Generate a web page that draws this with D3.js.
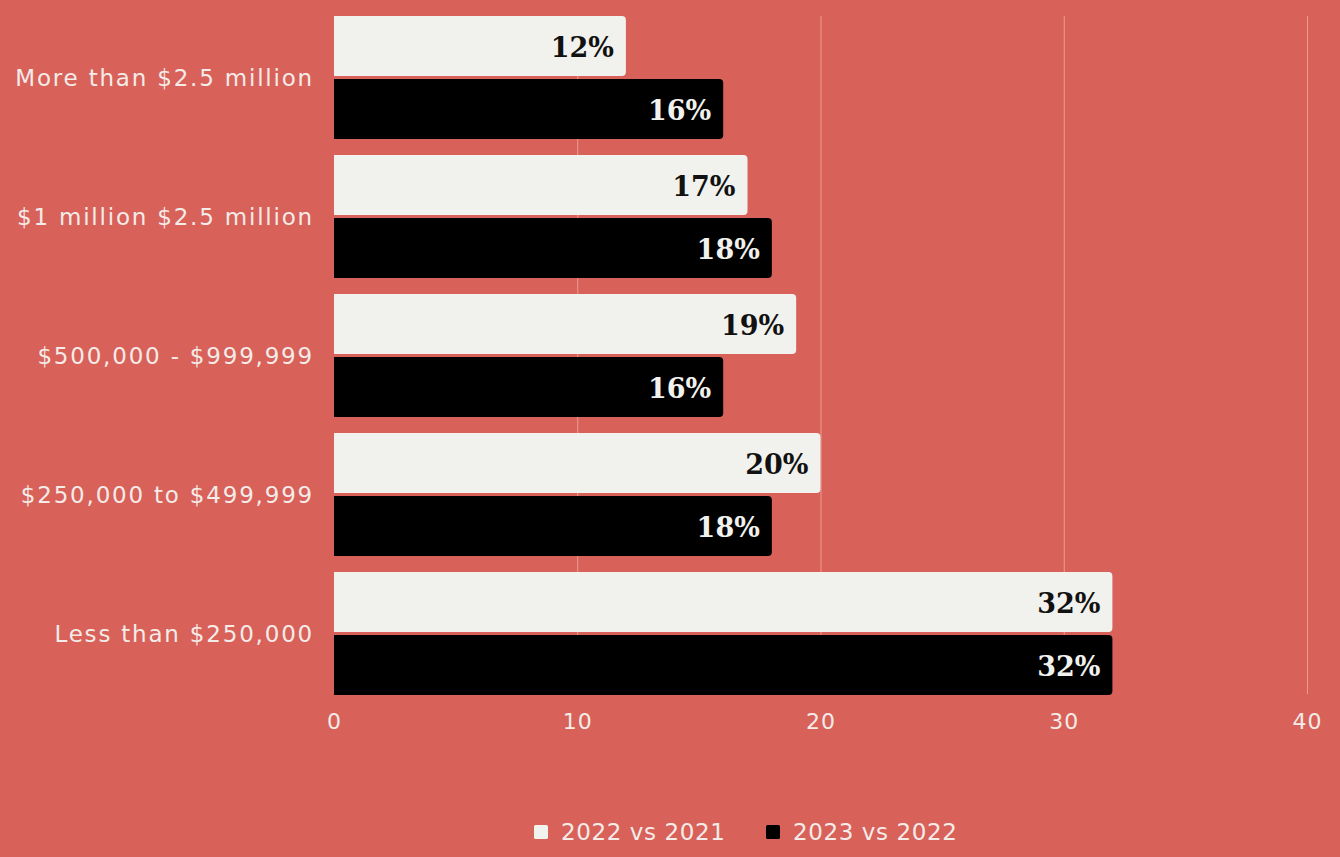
<!DOCTYPE html>
<html>
<head>
<meta charset="utf-8">
<script src="https://cdn.jsdelivr.net/npm/d3@7"></script>
<style>
  html, body { margin: 0; padding: 0; background: #d8615a; }
  svg { display: block; }
</style>
</head>
<body>
<svg id="chart" width="1340" height="857"></svg>
<script>
// Price brackets (top to bottom) and the two comparison series (%)
const categories = [
  "More than $2.5 million",
  "$1 million $2.5 million",
  "$500,000 - $999,999",
  "$250,000 to $499,999",
  "Less than $250,000"
];
const seriesNames = ["2022 vs 2021", "2023 vs 2022"];
const values2022vs2021 = [12, 17, 19, 20, 32];
const values2023vs2022 = [16, 18, 16, 18, 32];
const xTicks = [0, 10, 20, 30, 40];

const colors = { "2022 vs 2021": "#f1f1ed", "2023 vs 2022": "#000000" };
const labelColors = { "2022 vs 2021": "#111111", "2023 vs 2022": "#f1f1ed" };
const textColor = "#f4ece8";
const sansFont = "'DejaVu Sans', sans-serif";
const serifFont = "'DejaVu Serif', 'Liberation Serif', serif";

const rows = categories.map((c, i) => ({
  category: c,
  values: [
    { key: seriesNames[0], value: values2022vs2021[i] },
    { key: seriesNames[1], value: values2023vs2022[i] }
  ]
}));

const svg = d3.select("#chart");
const plotLeft = 334, plotRight = 1307, plotTop = 16, plotBottom = 695;

const x = d3.scaleLinear().domain([0, 40]).range([plotLeft, plotRight]);
const y0 = d3.scaleBand().domain(categories).range([plotTop, plotBottom])
  .paddingInner(0.115).paddingOuter(0);
const y1 = d3.scaleBand().domain(seriesNames).range([0, y0.bandwidth()])
  .paddingInner(0.048).paddingOuter(0);

// Vertical gridlines
svg.append("g")
  .selectAll("line")
  .data(xTicks.filter(t => t > 0))
  .join("line")
  .attr("x1", d => x(d) + 0.5).attr("x2", d => x(d) + 0.5)
  .attr("y1", plotTop).attr("y2", plotBottom - 1)
  .attr("stroke", "#ee9a92")
  .attr("stroke-width", 1);

// Bars, square on the left and rounded on the right end
function barPath(x0, x1, yTop, h, r) {
  r = Math.min(r, (x1 - x0) / 2, h / 2);
  return `M${x0},${yTop}H${x1 - r}A${r},${r} 0 0 1 ${x1},${yTop + r}` +
    `V${yTop + h - r}A${r},${r} 0 0 1 ${x1 - r},${yTop + h}H${x0}Z`;
}

const groups = svg.append("g")
  .selectAll("g")
  .data(rows)
  .join("g")
  .attr("transform", d => `translate(0,${y0(d.category)})`);

groups.selectAll("path")
  .data(d => d.values)
  .join("path")
  .attr("d", d => barPath(x(0), x(d.value), y1(d.key), y1.bandwidth(), 4))
  .attr("fill", d => colors[d.key]);

groups.selectAll("text")
  .data(d => d.values)
  .join("text")
  .attr("x", d => x(d.value) - 12)
  .attr("y", d => y1(d.key) + y1.bandwidth() / 2 + 2)
  .attr("dy", "0.35em")
  .attr("text-anchor", "end")
  .attr("font-family", serifFont)
  .attr("font-weight", "bold")
  .attr("font-size", 27)
  .attr("fill", d => labelColors[d.key])
  .text(d => d.value + "%");

// Category labels
svg.append("g")
  .selectAll("text")
  .data(categories)
  .join("text")
  .attr("x", 314)
  .attr("y", d => y0(d) + y0.bandwidth() / 2)
  .attr("dy", "0.35em")
  .attr("text-anchor", "end")
  .attr("font-family", sansFont)
  .attr("font-size", 23)
  .attr("letter-spacing", 1.8)
  .attr("fill", textColor)
  .text(d => d);

// X axis tick labels
const xAxis = svg.append("g")
  .attr("transform", `translate(0,${plotBottom})`)
  .call(d3.axisBottom(x).tickValues(xTicks).tickSize(0).tickPadding(18));
xAxis.select(".domain").remove();
xAxis.selectAll("text")
  .attr("font-family", sansFont)
  .attr("font-size", 22)
  .attr("letter-spacing", 1)
  .attr("fill", textColor);

// Legend
const legend = svg.append("g").attr("transform", "translate(534,832)");
const legendOffsets = [0, 232];
const items = legend.selectAll("g")
  .data(seriesNames)
  .join("g")
  .attr("transform", (d, i) => `translate(${legendOffsets[i]},0)`);
items.append("rect")
  .attr("x", 0).attr("y", -7).attr("width", 14).attr("height", 14)
  .attr("rx", 1.5)
  .attr("fill", d => colors[d]);
items.append("text")
  .attr("x", 27).attr("y", 0).attr("dy", "0.35em")
  .attr("font-family", sansFont)
  .attr("font-size", 23)
  .attr("letter-spacing", 0.6)
  .attr("fill", textColor)
  .text(d => d);
</script>
</body>
</html>
